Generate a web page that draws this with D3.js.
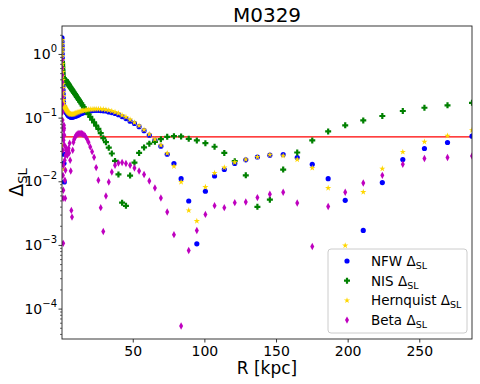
<!DOCTYPE html>
<html>
<head>
<meta charset="utf-8">
<script src="https://cdn.jsdelivr.net/npm/d3@7"></script>
<style>
  body { margin: 0; background: #fff; }
  text { font-family: "DejaVu Sans", sans-serif; fill: #000; }
</style>
</head>
<body>
<div id="chart"></div>
<script>
// radius samples (kpc), log spaced
const radius = [0.608,0.647,0.688,0.731,0.778,0.827,0.880,0.936,0.995,1.058,
  1.126,1.197,1.273,1.354,1.440,1.531,1.629,1.732,1.842,1.959,
  2.083,2.216,2.356,2.506,2.665,2.834,3.014,3.206,3.409,3.626,
  3.856,4.101,4.361,4.638,4.933,5.246,5.579,5.933,6.310,6.711,
  7.137,7.590,8.072,8.585,9.130,9.710,10.33,10.98,11.68,12.42,
  13.21,14.05,14.94,15.89,16.90,17.97,19.11,20.33,21.62,22.99,
  24.45,26.00,27.65,29.41,31.28,33.26,35.38,37.62,40.01,42.55,
  45.25,48.13,51.18,54.43,57.89,61.56,65.47,69.63,74.05,78.75,
  83.75,89.07,94.72,100.7,107.1,113.9,121.2,128.9,137.0,145.7,
  155.0,164.8,175.3,186.4,198.3,210.9,224.2,238.5,253.6,269.7,
  286.8];

const nfwDelta = [1.79,1.55,1.34,1.16,1.0,0.865,0.748,0.647,0.560,0.484,
  0.419,0.362,0.313,0.271,0.234,0.203,0.175,0.0266,0.152,0.0192,
  0.146,0.00975,0.141,0.139,0.136,0.134,0.131,0.128,0.125,0.122,
  0.119,0.117,0.114,0.112,0.109,0.107,0.106,0.104,0.103,0.102,
  0.102,0.102,0.102,0.103,0.104,0.105,0.106,0.107,0.109,0.111,
  0.114,0.116,0.118,0.120,0.122,0.124,0.127,0.128,0.129,0.130,
  0.130,0.130,0.129,0.128,0.127,0.123,0.120,0.116,0.111,0.104,
  0.0965,0.0881,0.0810,0.0722,0.0624,0.0530,0.0442,0.0356,0.0266,0.0190,
  0.0110,0.00490,0.00104,0.00697,0.0121,0.0153,0.0190,0.0217,0.0241,0.0257,
  0.0263,0.0236,0.0185,0.0110,0.00502,0.00169,0.00954,0.0220,0.0327,0.0407,
  0.0512];

const nisDelta = [0.748,0.721,0.696,0.659,0.624,0.591,0.560,0.530,0.502,0.476,
  0.451,0.435,0.419,0.411,0.404,0.400,0.397,0.394,0.392,0.391,
  0.390,0.390,0.390,0.390,0.390,0.390,0.390,0.384,0.377,0.372,
  0.365,0.358,0.351,0.344,0.337,0.329,0.320,0.311,0.303,0.294,
  0.284,0.275,0.265,0.255,0.245,0.234,0.223,0.212,0.201,0.190,
  0.179,0.167,0.156,0.145,0.135,0.123,0.113,0.103,0.0933,0.0840,
  0.0751,0.0667,0.0570,0.0475,0.0411,0.0337,0.0273,0.0209,0.0128,0.00462,
  0.00411,0.0123,0.0197,0.0279,0.0340,0.0390,0.0416,0.0459,0.0499,0.0512,
  0.0506,0.0464,0.0439,0.0397,0.0349,0.0279,0.0207,0.0124,0.00397,0.00515,
  0.0153,0.0283,0.0438,0.0607,0.0756,0.0904,0.106,0.127,0.143,0.156,
  0.171];

const hernquistDelta = [1.66,1.44,1.24,1.08,0.930,0.804,0.696,0.602,0.521,0.451,
  0.390,0.337,0.292,0.252,0.0369,0.218,0.189,0.169,0.157,0.152,
  0.0155,0.149,0.148,0.146,0.144,0.141,0.139,0.136,0.134,0.131,
  0.129,0.127,0.124,0.122,0.120,0.118,0.117,0.115,0.114,0.113,
  0.113,0.113,0.113,0.114,0.115,0.117,0.118,0.119,0.121,0.123,
  0.125,0.127,0.128,0.130,0.131,0.133,0.134,0.135,0.135,0.136,
  0.136,0.136,0.136,0.135,0.133,0.130,0.127,0.122,0.117,0.109,
  0.102,0.0930,0.0840,0.0748,0.0647,0.0550,0.0459,0.0369,0.0276,0.0172,
  0.00975,0.00349,0.00237,0.00813,0.0135,0.0164,0.0199,0.0220,0.0241,0.0260,
  0.0252,0.0220,0.0162,0.00784,0.00098,0.00678,0.0158,0.0289,0.0416,0.0517,
  0.0636];

const betaDelta = [0.804,0.602,0.467,0.362,0.271,0.210,0.163,0.122,0.0914,0.0684,
  0.0512,0.0308,0.0124,0.00540,0.00106,0.00722,0.0179,0.0442,0.0636,0.0762,
  0.0684,0.0530,0.0369,0.0214,0.0104,0.00540,0.0149,0.0257,0.0308,0.0331,
  0.0308,0.0286,0.0257,0.0286,0.0308,0.0331,0.0279,0.0397,0.0214,0.0145,
  0.00349,0.00274,0.0308,0.0411,0.0459,0.0493,0.0521,0.0540,0.0554,0.0562,
  0.0564,0.0562,0.0554,0.0540,0.0512,0.0467,0.0411,0.0347,0.0292,0.0239,
  0.0164,0.0104,0.00385,0.00163,0.00587,0.00975,0.0140,0.0179,0.0194,0.0197,
  0.0190,0.0179,0.0162,0.0145,0.0128,0.0101,0.00784,0.00546,0.00329,0.00145,
  0.0000534,0.00082,0.00169,0.00302,0.00414,0.00385,0.00462,0.00472,0.00554,0.00624,
  0.00671,0.00455,0.000946,0.00401,0.00671,0.00940,0.0124,0.0185,0.0228,0.0236,
  0.0250];

const threshold = 0.05;
const xTicks = [50, 100, 150, 200, 250];
const yTickExps = [0, -1, -2, -3, -4];
const yDomain = [3.33e-5, 2.75];

const margin = { top: 26, right: 8, bottom: 45, left: 62 };
const width = 480 - margin.left - margin.right;
const height = 384 - margin.top - margin.bottom;

const svg = d3.select("#chart").append("svg")
  .attr("width", 480).attr("height", 384);
const g = svg.append("g").attr("transform", `translate(${margin.left},${margin.top})`);

const x = d3.scaleLinear().domain(d3.extent(radius)).range([0, width]);
const y = d3.scaleLog().domain(yDomain).range([height, 0]);

svg.append("defs").append("clipPath").attr("id", "plot-clip")
  .append("rect").attr("width", width).attr("height", height);

// thin diamond like matplotlib "d"
const thinDiamond = "M0,-3.7L2,0L0,3.7L-2,0Z";
// filled plus like matplotlib "P"
const fatPlus = "M-1.1,-3H1.1V-1.1H3V1.1H1.1V3H-1.1V1.1H-3V-1.1H-1.1Z";

const series = [
  { name: "NFW", data: nfwDelta, color: "#0000ff", path: d3.symbol(d3.symbolCircle, 21)() },
  { name: "NIS", data: nisDelta, color: "#008000", path: fatPlus },
  { name: "Hernquist", data: hernquistDelta, color: "#ffd700", path: d3.symbol(d3.symbolStar, 12)() },
  { name: "Beta", data: betaDelta, color: "#bf00bf", path: thinDiamond },
];

const plot = g.append("g").attr("clip-path", "url(#plot-clip)");

// threshold line
plot.append("line")
  .attr("x1", 0).attr("x2", width)
  .attr("y1", y(threshold)).attr("y2", y(threshold))
  .attr("stroke", "red").attr("stroke-width", 1.2);

series.forEach((s) => {
  const pts = radius.map((r, i) => ({ r: r, v: s.data[i] })).filter((d) => d.v > 0);
  plot.append("g").selectAll("path")
    .data(pts).enter().append("path")
    .attr("d", s.path)
    .attr("transform", (d) => `translate(${x(d.r)},${y(d.v)})`)
    .attr("fill", s.color);
});

// x axis
const xAxis = g.append("g").attr("transform", `translate(0,${height})`)
  .call(d3.axisBottom(x).tickValues(xTicks).tickSize(3.5).tickPadding(3.5).tickFormat(d3.format("d")));
xAxis.select(".domain").remove();
xAxis.selectAll("text").style("font-size", "14px");
xAxis.selectAll("line").attr("stroke", "#222").attr("stroke-width", 0.9);

// y axis, majors
const majors = yTickExps.map((e) => Math.pow(10, e));
const yAxis = g.append("g")
  .call(d3.axisLeft(y).tickValues(majors).tickSize(3.5).tickFormat(""));
yAxis.select(".domain").remove();
yAxis.selectAll("line").attr("stroke", "#222").attr("stroke-width", 0.9);

// minor ticks
const minors = [];
for (let e = -5; e <= 0; e++) {
  for (let m = 2; m <= 9; m++) {
    const v = m * Math.pow(10, e);
    if (v >= yDomain[0] && v <= yDomain[1]) minors.push(v);
  }
}
const yMinor = g.append("g")
  .call(d3.axisLeft(y).tickValues(minors).tickSize(2).tickFormat(""));
yMinor.select(".domain").remove();
yMinor.selectAll("line").attr("stroke", "#222").attr("stroke-width", 0.7);

// y tick labels with superscript
yTickExps.forEach((e) => {
  const t = g.append("text")
    .attr("x", -5).attr("y", y(Math.pow(10, e)) + 5)
    .attr("text-anchor", "end").style("font-size", "14px");
  t.append("tspan").text("10");
  t.append("tspan").attr("dy", -7).style("font-size", "10px")
    .text(e === 0 ? "0" : "\u2212" + Math.abs(e));
});

// frame
g.append("rect").attr("width", width).attr("height", height)
  .attr("fill", "none").attr("stroke", "#222").attr("stroke-width", 0.9);

// title and labels
svg.append("text").attr("x", margin.left + width / 2).attr("y", 22)
  .attr("text-anchor", "middle").style("font-size", "20px").text("M0329");

svg.append("text").attr("x", margin.left + width / 2).attr("y", 374)
  .attr("text-anchor", "middle").style("font-size", "17px").text("R [kpc]");

const yl = svg.append("text")
  .attr("transform", `translate(23,${margin.top + height / 2}) rotate(-90)`)
  .attr("text-anchor", "middle").style("font-size", "19px");
yl.append("tspan").text("\u0394");
yl.append("tspan").attr("dy", 4).style("font-size", "13px").text("SL");

// legend
const legend = svg.append("g").attr("transform", "translate(328,249)");
legend.append("rect").attr("width", 139).attr("height", 84).attr("rx", 3)
  .attr("fill", "#fff").attr("fill-opacity", 0.8)
  .attr("stroke", "#ccc").attr("stroke-width", 1);
series.forEach((s, i) => {
  const row = legend.append("g").attr("transform", `translate(0,${12 + i * 19.7})`);
  row.append("path").attr("d", s.path).attr("transform", "translate(19,0)").attr("fill", s.color);
  const t = row.append("text").attr("x", 43).attr("y", 5).style("font-size", "13.5px");
  t.append("tspan").text(s.name + " \u0394");
  t.append("tspan").attr("dy", 3).style("font-size", "9.5px").text("SL");
});
</script>
</body>
</html>
